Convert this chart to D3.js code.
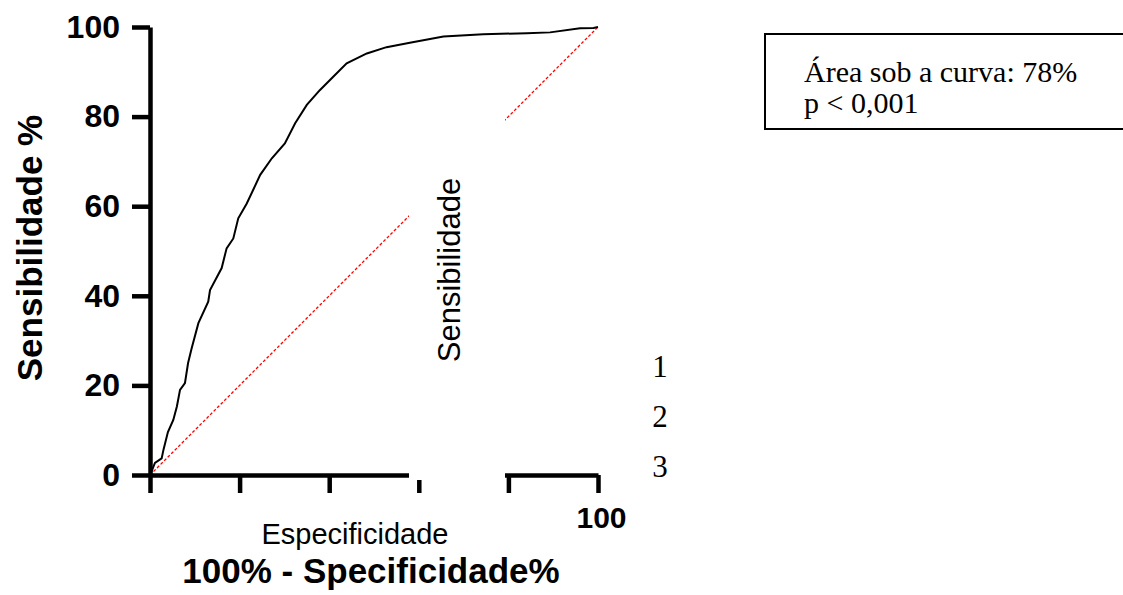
<!DOCTYPE html>
<html>
<head>
<meta charset="utf-8">
<script src="https://cdn.jsdelivr.net/npm/d3@7"></script>
<style>
  body { margin: 0; background: #fff; }
  svg { display: block; }
</style>
</head>
<body>
<div id="chart"></div>
<script>
// ROC curve: 100% - specificity (x) vs sensitivity (y), both in %
var fpr = [0, 0.2, 1.1, 2.6, 3.0, 4.0, 5.2, 6.0, 6.7, 7.8, 8.5, 9.3, 10.8, 13.0, 13.4, 16.0, 17.1,
           18.6, 19.7, 21.6, 24.6, 27.2, 30.1, 32.4, 35.0, 37.9, 40.9, 43.9, 48.4, 52.8, 58.0,
           65.5, 74.4, 84.1, 89.3, 96.0, 99.0, 100];
var tpr = [0, 0.4, 2.7, 3.7, 5.6, 9.6, 12.3, 15.3, 19.0, 20.5, 25.0, 28.3, 33.9, 38.7, 41.3, 46.2, 50.6,
           52.8, 57.3, 60.6, 67.0, 70.7, 74.0, 78.5, 82.6, 85.9, 88.9, 91.9, 94.1, 95.5, 96.5,
           97.9, 98.4, 98.6, 98.8, 99.7, 99.8, 100];
var diagonal = [0, 100];
var axisTicks = [0, 20, 40, 60, 80, 100];
var boxLines = ["Área sob a curva: 78%", "p < 0,001"];
var sideNumbers = ["1", "2", "3"];

var svg = d3.select("#chart").append("svg")
      .attr("width", 1123)
      .attr("height", 595);

var x = d3.scaleLinear().domain([0, 100]).range([150, 598]);
var y = d3.scaleLinear().domain([0, 100]).range([475, 27]);

// red dashed reference line
svg.append("line")
  .attr("x1", x(diagonal[0])).attr("y1", y(diagonal[0]))
  .attr("x2", x(diagonal[1])).attr("y2", y(diagonal[1]))
  .style("stroke", "#f00")
  .style("stroke-width", 1.3)
  .style("stroke-dasharray", "3,2");

// ROC curve
var pts = fpr.map(function(d, i) { return [d, tpr[i]]; });
svg.append("path")
  .datum(pts)
  .attr("d", d3.line().x(function(d) { return x(d[0]); }).y(function(d) { return y(d[1]); }))
  .style("fill", "none")
  .style("stroke", "#000")
  .style("stroke-width", 2);

// axes
var yAxis = svg.append("g")
  .attr("transform", "translate(" + x(0) + ",0)")
  .call(d3.axisLeft(y).tickValues(axisTicks).tickSize(18).tickSizeOuter(0).tickPadding(12));
var xAxis = svg.append("g")
  .attr("transform", "translate(0," + y(0) + ")")
  .call(d3.axisBottom(x).tickValues(axisTicks).tickSize(18).tickSizeOuter(0).tickPadding(14)
    .tickFormat(function(d) { return d === 100 ? "100" : ""; }));

[yAxis, xAxis].forEach(function(g) {
  g.select(".domain").style("stroke-width", 4.5);
  g.selectAll(".tick line").style("stroke-width", 4.5);
  g.selectAll(".tick text")
    .style("font-family", "Liberation Sans, Arial, sans-serif")
    .style("font-weight", "bold")
    .style("font-size", "32px")
    .style("fill", "#000");
});
xAxis.selectAll(".tick text").attr("dx", 3).style("font-size", "30px");

// white block pasted over the middle of the plot
svg.append("rect")
  .attr("x", 409).attr("y", 60)
  .attr("width", 96).attr("height", 420)
  .style("fill", "#fff");

svg.append("text")
  .attr("transform", "translate(460,270) rotate(-90)")
  .attr("text-anchor", "middle")
  .style("font-family", "Liberation Sans, Arial, sans-serif")
  .style("font-size", "31px")
  .text("Sensibilidade");

svg.append("text")
  .attr("x", 355).attr("y", 544)
  .attr("text-anchor", "middle")
  .style("font-family", "Liberation Sans, Arial, sans-serif")
  .style("font-size", "29px")
  .text("Especificidade");

// axis titles
svg.append("text")
  .attr("transform", "translate(42,248) rotate(-90)")
  .attr("text-anchor", "middle")
  .style("font-family", "Liberation Sans, Arial, sans-serif")
  .style("font-weight", "bold")
  .style("font-size", "35px")
  .text("Sensibilidade %");

svg.append("text")
  .attr("x", 371).attr("y", 583)
  .attr("text-anchor", "middle")
  .style("font-family", "Liberation Sans, Arial, sans-serif")
  .style("font-weight", "bold")
  .style("font-size", "35px")
  .text("100% - Specificidade%");

// numbers on the right
svg.selectAll("text.num")
  .data(sideNumbers)
  .enter().append("text")
  .attr("class", "num")
  .attr("x", 660)
  .attr("y", function(d, i) { return 377 + i * 50; })
  .attr("text-anchor", "middle")
  .style("font-family", "Liberation Serif, Times New Roman, serif")
  .style("font-size", "31px")
  .text(function(d) { return d; });

// AUC box
svg.append("rect")
  .attr("x", 765).attr("y", 34)
  .attr("width", 370).attr("height", 95)
  .style("fill", "none")
  .style("stroke", "#000")
  .style("stroke-width", 2);

svg.selectAll("text.box")
  .data(boxLines)
  .enter().append("text")
  .attr("class", "box")
  .attr("x", 804)
  .attr("y", function(d, i) { return 82 + i * 31; })
  .style("font-family", "Liberation Serif, Times New Roman, serif")
  .style("font-size", "30px")
  .text(function(d) { return d; });
</script>
</body>
</html>
